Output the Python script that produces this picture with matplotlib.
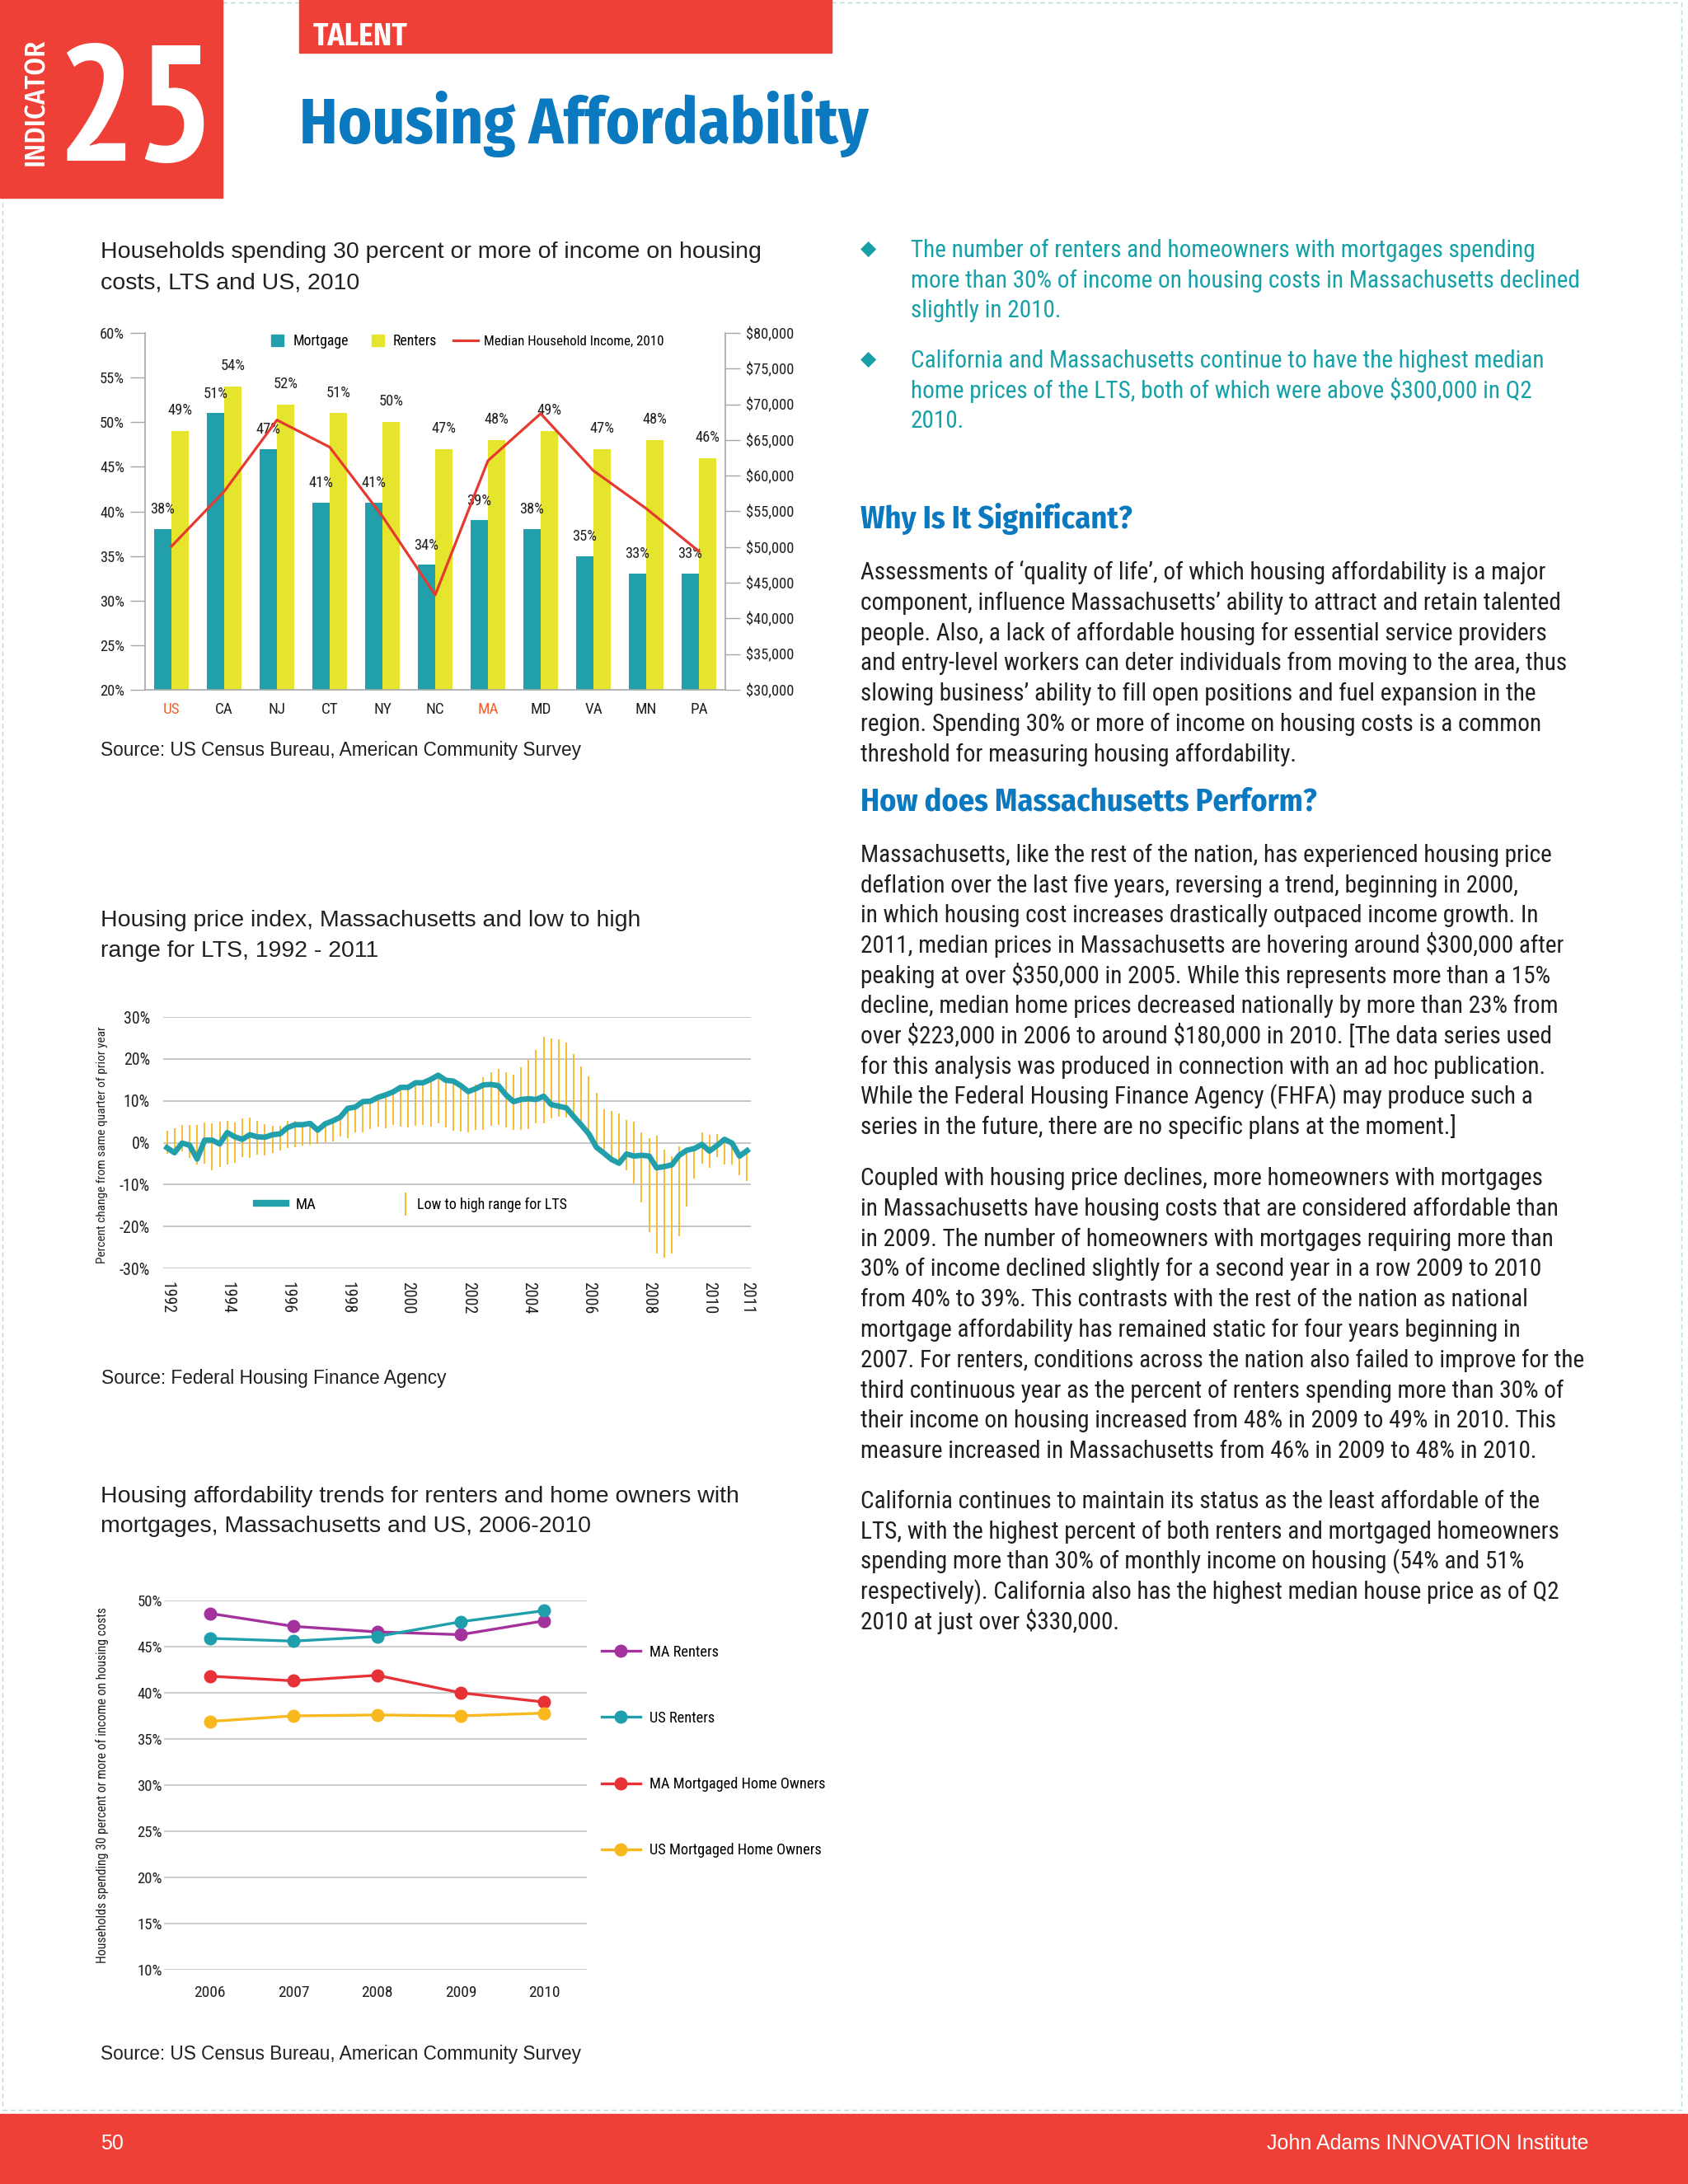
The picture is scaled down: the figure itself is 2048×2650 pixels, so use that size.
import numpy as np
import matplotlib
matplotlib.use('Agg')
import matplotlib.pyplot as plt
from matplotlib.patches import Rectangle, Patch
from matplotlib.lines import Line2D
from matplotlib.ticker import FuncFormatter

W, H = 2048, 2650

# ---------------- DATA ----------------
states = ['US', 'CA', 'NJ', 'CT', 'NY', 'NC', 'MA', 'MD', 'VA', 'MN', 'PA']
mortgage_pct = [38, 51, 47, 41, 41, 34, 39, 38, 35, 33, 33]
renters_pct = [49, 54, 52, 51, 50, 47, 48, 49, 47, 48, 46]
median_income = [50100, 57800, 67800, 64000, 54300, 43300, 62100, 68700, 60700, 55400, 49400]
highlight_states = ['US', 'MA']

# quarterly, 1992 Q1 .. 2011 Q2
ma_hpi = [-1.2, -2.4, -0.1, -0.6, -3.9, 0.6, 0.6, -0.3, 2.4, 1.4,
          0.8, 1.9, 1.4, 1.3, 1.9, 2.1, 3.6, 4.3, 4.3, 4.6,
          3.0, 4.5, 5.2, 6.1, 8.2, 8.5, 9.8, 9.9, 10.8, 11.4,
          12.1, 13.2, 13.2, 14.3, 14.3, 15.1, 16.1, 14.9, 14.7, 13.6,
          12.2, 12.9, 13.8, 13.9, 13.6, 11.4, 9.8, 10.3, 10.5, 10.3,
          11.1, 9.1, 8.7, 8.3, 6.2, 4.2, 2.1, -1.1, -2.5, -4.0,
          -4.9, -2.7, -3.2, -3.0, -3.2, -6.0, -5.7, -5.3, -3.0, -1.8,
          -1.4, -0.4, -2.0, -0.7, 0.8, -0.1, -3.2, -1.9]
lts_high = [2.9, 3.4, 4.3, 4.3, 4.3, 4.9, 4.7, 5.0, 5.3, 4.9,
            5.8, 6.0, 5.3, 4.4, 4.1, 4.1, 5.3, 5.3, 4.7, 4.9,
            3.9, 4.9, 5.5, 6.1, 8.2, 8.5, 9.8, 10.1, 10.8, 11.4,
            12.1, 13.2, 13.2, 14.3, 14.3, 15.1, 16.1, 14.9, 14.7, 13.6,
            12.4, 13.9, 15.7, 16.9, 17.6, 16.9, 16.2, 18.0, 19.7, 22.2,
            25.3, 24.8, 24.7, 23.9, 21.1, 18.2, 15.9, 11.9, 8.0, 7.6,
            7.0, 5.5, 5.0, 2.4, 1.1, 1.6, -1.6, -3.2, -0.9, -1.8,
            -1.4, 2.4, 1.9, 2.1, 1.1, -0.1, -3.0, -1.9]
lts_low = [-2.6, -2.7, -2.0, -3.6, -5.3, -5.0, -6.5, -5.8, -5.2, -4.8,
           -3.4, -3.6, -2.9, -3.0, -2.5, -1.9, -1.3, -1.1, -0.7, -0.5,
           -0.3, 0.1, 0.3, 1.4, 1.1, 2.4, 2.4, 3.2, 3.9, 3.4,
           4.3, 3.9, 3.7, 4.0, 4.2, 3.9, 4.7, 3.6, 2.9, 2.7,
           2.4, 3.0, 3.0, 4.0, 4.2, 3.7, 3.1, 3.0, 3.2, 4.7,
           4.7, 5.9, 6.1, 6.0, 5.5, 4.3, 2.1, -1.5, -3.0, -4.2,
           -4.9, -6.6, -9.7, -14.3, -21.4, -26.5, -27.4, -26.4, -22.3, -15.3,
           -8.6, -5.0, -6.0, -3.5, -5.3, -5.3, -7.8, -9.1]
hpi_tick_pos = [0, 8, 16, 24, 32, 40, 48, 56, 64, 72, 77]
hpi_tick_labels = ['1992', '1994', '1996', '1998', '2000', '2002', '2004',
                   '2006', '2008', '2010', '2011']

trend_years = [2006, 2007, 2008, 2009, 2010]
ma_renters = [48.6, 47.2, 46.6, 46.3, 47.8]
us_renters = [45.9, 45.6, 46.1, 47.7, 48.9]
ma_owners = [41.8, 41.3, 41.9, 40.0, 39.0]
us_owners = [36.9, 37.5, 37.6, 37.5, 37.8]

# ---------------- STYLE ----------------
CHART = ['Roboto Condensed', 'DejaVu Sans']
BODY = ['Roboto Condensed', 'DejaVu Sans']
NARROW = ['PT Sans Narrow', 'DejaVu Sans']
HEAD = ['Fira Sans Condensed', 'DejaVu Sans']
REG = ['Liberation Sans', 'DejaVu Sans']
plt.rcParams['font.family'] = CHART
RED = '#ee4036'
BLUE = '#0a79bf'
TEALTXT = '#17a0a8'
DARK = '#231f20'
GRAY = '#a7a7a7'
TEAL = '#21a0ac'
YEL = '#e6e52d'
LINE_RED = '#e43a2f'
ORANGE = '#f0642e'
GOLD = '#f6b821'


def fx(x):
    return x / W


def fy(y):
    return 1 - y / H


def rect(l, t, r, b):
    return [l / W, 1 - b / H, (r - l) / W, (b - t) / H]


fig = plt.figure(figsize=(W / 100, H / 100), dpi=100)
fig.patch.set_facecolor('white')

# dashed page border
fig.add_artist(Rectangle((fx(3), fy(2560)), fx(2037), (2560 - 3) / H, transform=fig.transFigure,
                         fill=False, ec='#b6dcd8', lw=1.0, ls=(0, (4, 3)), zorder=0))

# ---------------- HEADER ----------------
fig.add_artist(Rectangle((0, fy(240)), fx(270), 240 / H, transform=fig.transFigure,
                         color=RED, zorder=1))
fig.add_artist(Rectangle((fx(363), fy(64)), fx(1009 - 363), 64 / H, transform=fig.transFigure,
                         color=RED, zorder=1))
fig.add_artist(Rectangle((0, 0), 1, (H - 2565) / H, transform=fig.transFigure,
                         color=RED, zorder=1))
fig.text(fx(44), fy(124), 'INDICATOR', rotation=90, ha='center', va='center',
         fontsize=25, weight=500, color='white', family=HEAD, zorder=2)
fig.text(fx(68), fy(195), '25', ha='left', va='baseline', fontsize=145, weight='bold',
         color='white', family=NARROW, zorder=2)
fig.text(fx(380), fy(55), 'TALENT', ha='left', va='baseline', fontsize=27,
         weight='bold', color='white', family=HEAD, zorder=2)
fig.text(fx(363), fy(174), 'Housing Affordability', ha='left', va='baseline',
         fontsize=56, weight='bold', color=BLUE, family=HEAD)

# footer
fig.text(fx(122), fy(2608), '50', ha='left', va='baseline', fontsize=18,
         color='white', family=REG, zorder=2)
fig.text(fx(1927), fy(2608), 'John Adams INNOVATION Institute', ha='right', va='baseline',
         fontsize=18, color='white', family=REG, zorder=2)


def ptext(x, y, s, **kw):
    kw.setdefault('family', BODY)
    kw.setdefault('color', DARK)
    kw.setdefault('fontsize', 21.1)
    fig.text(fx(x), fy(y), s, ha='left', va='baseline', parse_math=False, **kw)


# ---------------- CHART 1 ----------------
ptext(122, 313, 'Households spending 30 percent or more of income on housing', family=REG, fontsize=20.5)
ptext(122, 350, 'costs, LTS and US, 2010', family=REG, fontsize=20.5)
ptext(122, 917, 'Source: US Census Bureau, American Community Survey', family=REG, fontsize=16.3)

ax1 = fig.add_axes(rect(176, 404, 880, 837))
x = np.arange(len(states))
bw = 0.335
ax1.bar(x - bw / 2, mortgage_pct, width=bw, color=TEAL, zorder=2)
ax1.bar(x + bw / 2, renters_pct, width=bw, color=YEL, zorder=2)
for i in range(len(states)):
    ax1.text(x[i] - bw / 2, mortgage_pct[i] + 2.2, f'{mortgage_pct[i]}%', ha='center', va='center',
             fontsize=13.3, color=DARK, zorder=4)
    ax1.text(x[i] + bw / 2, renters_pct[i] + 2.3, f'{renters_pct[i]}%', ha='center', va='center',
             fontsize=13.3, color=DARK, zorder=4)
ax1.set_xlim(-0.5, 10.5)
ax1.set_ylim(20, 60)
ax1.set_yticks(range(20, 61, 5))
ax1.set_yticklabels([f'{v}%' for v in range(20, 61, 5)])
ax1.set_xticks(x)
ax1.set_xticklabels(states)
for lbl in ax1.get_xticklabels():
    lbl.set_color(ORANGE if lbl.get_text() in highlight_states else DARK)
for s in ['top', 'right']:
    ax1.spines[s].set_visible(False)
for s in ['left', 'bottom']:
    ax1.spines[s].set_color(GRAY)
    ax1.spines[s].set_linewidth(1.2)
ax1.tick_params(axis='y', length=13, width=1, color=GRAY, labelsize=13.3, pad=5, labelcolor=DARK)
ax1.tick_params(axis='x', length=0, pad=11, labelsize=13.8)
ax1.patch.set_alpha(0)

ax2 = ax1.twinx()
ax2.plot(x, median_income, color=LINE_RED, lw=2.3, zorder=5)
ax2.set_ylim(30000, 80000)
ax2.set_yticks(range(30000, 80001, 5000))
ax2.yaxis.set_major_formatter(FuncFormatter(lambda v, p: '\\$' + f'{int(v):,}'))
for s in ['top', 'left', 'bottom']:
    ax2.spines[s].set_visible(False)
ax2.spines['right'].set_color(GRAY)
ax2.spines['right'].set_linewidth(1.2)
ax2.tick_params(axis='y', length=13, width=1, color=GRAY, labelsize=13.3, pad=5, labelcolor=DARK)

legend_items = [(Patch(color=TEAL), 'Mortgage', 329, 0.83, 0.65, 12.8),
                (Patch(color=YEL), 'Renters', 451, 0.83, 0.6, 12.8),
                (Line2D([0], [0], color=LINE_RED, lw=2.3), 'Median Household Income, 2010', 550, 1.75, 0.45, 12.2)]
for k, (hnd, lab, xpos, hl, tp, fs) in enumerate(legend_items):
    lg = ax2.legend([hnd], [lab], loc='center left', bbox_to_anchor=(fx(xpos), fy(414)),
                    bbox_transform=fig.transFigure, frameon=False, fontsize=fs,
                    handlelength=hl, handleheight=0.83, handletextpad=tp,
                    borderpad=0, borderaxespad=0)
    if k < len(legend_items) - 1:
        ax2.add_artist(lg)

# ---------------- CHART 2 ----------------
ptext(122, 1124, 'Housing price index, Massachusetts and low to high', family=REG, fontsize=20.5)
ptext(122, 1161, 'range for LTS, 1992 - 2011', family=REG, fontsize=20.5)
ptext(123, 1679, 'Source: Federal Housing Finance Agency', family=REG, fontsize=16.3)

axh = fig.add_axes(rect(198, 1234, 911, 1539))
q = np.arange(len(ma_hpi))
axh.vlines(q, lts_low, lts_high, color=GOLD, lw=1.3, zorder=2)
axh.plot(q, ma_hpi, color=TEAL, lw=4.8, zorder=3)
axh.set_xlim(-0.5, 77.5)
axh.set_ylim(-30, 30)
axh.set_yticks(range(-30, 31, 10))
axh.set_yticklabels([f'{v}%' for v in range(-30, 31, 10)])
axh.set_xticks(hpi_tick_pos)
axh.set_xticklabels(hpi_tick_labels, rotation=-90)
axh.grid(axis='y', color='#b8b8b8', lw=1.1, zorder=0)
axh.set_axisbelow(True)
for s in axh.spines.values():
    s.set_visible(False)
axh.tick_params(axis='y', length=0, pad=11.5, labelsize=14.3, labelcolor=DARK)
axh.tick_params(axis='x', length=0, pad=11.5, labelsize=14.3, labelcolor=DARK)
axh.set_ylabel('Percent change from same quarter of prior year', fontsize=11.1, color=DARK)
axh.yaxis.set_label_coords((131 - 198) / 713, 0.49)
lgA = axh.legend([Line2D([0], [0], color=TEAL, lw=6)], ['MA'], loc='center left',
                 bbox_to_anchor=(fx(311), fy(1462)), bbox_transform=fig.transFigure,
                 frameon=False, fontsize=13.5, handlelength=1.92, handletextpad=0.6,
                 borderpad=0, borderaxespad=0)
axh.add_artist(lgA)
axh.legend([Line2D([0], [0], color=GOLD, marker='|', ls='none', markersize=20, markeredgewidth=1.4)],
           ['Low to high range for LTS'], loc='center left',
           bbox_to_anchor=(fx(484), fy(1462)), bbox_transform=fig.transFigure,
           frameon=False, fontsize=13, handlelength=0.86, handletextpad=0.36,
           borderpad=0, borderaxespad=0)

# ---------------- CHART 3 ----------------
ptext(122, 1823, 'Housing affordability trends for renters and home owners with', family=REG, fontsize=20.5)
ptext(122, 1859, 'mortgages, Massachusetts and US, 2006-2010', family=REG, fontsize=20.5)
ptext(122, 2499, 'Source: US Census Bureau, American Community Survey', family=REG, fontsize=16.3)

axt = fig.add_axes(rect(199, 1942, 712, 2390))
series = [(ma_renters, '#a3329c', 'MA Renters'),
          (us_renters, '#1e9fab', 'US Renters'),
          (ma_owners, '#e63137', 'MA Mortgaged Home Owners'),
          (us_owners, '#f8b81e', 'US Mortgaged Home Owners')]
handles = []
for vals, col, lab in series:
    h, = axt.plot(trend_years, vals, color=col, lw=2.4, marker='o', markersize=10.5,
                  label=lab, zorder=3)
    handles.append(h)
axt.set_xlim(2005.45, 2010.51)
axt.set_ylim(10, 50)
axt.set_yticks(range(10, 51, 5))
axt.set_yticklabels([f'{v}%' for v in range(10, 51, 5)])
axt.set_xticks(trend_years)
axt.set_xticklabels([str(y) for y in trend_years])
axt.grid(axis='y', color='#c4c4c4', lw=1.2, zorder=0)
axt.set_axisbelow(True)
for s in axt.spines.values():
    s.set_visible(False)
axt.tick_params(axis='y', length=0, pad=1.5, labelsize=13.5, labelcolor=DARK)
axt.tick_params(axis='x', length=0, pad=14, labelsize=14, labelcolor=DARK)
axt.set_ylabel('Households spending 30 percent or more of income on housing costs',
               fontsize=11.3, color=DARK)
axt.yaxis.set_label_coords((132 - 199) / 513, 0.5)
axt.legend(handles=handles, loc='center left', bbox_to_anchor=(fx(730), fy(2125)),
           bbox_transform=fig.transFigure, frameon=False, fontsize=13.2,
           handlelength=2.55, handletextpad=0.6, labelspacing=3.4,
           borderpad=0, borderaxespad=0)

# ---------------- RIGHT COLUMN TEXT ----------------
bullets = [
    ['The number of renters and homeowners with mortgages spending',
     'more than 30% of income on housing costs in Massachusetts declined',
     'slightly in 2010.'],
    ['California and Massachusetts continue to have the highest median',
     'home prices of the LTS, both of which were above $300,000 in Q2',
     '2010.'],
]
bullet_y = [312, 446]
for blines, y0 in zip(bullets, bullet_y):
    fig.text(fx(1054), fy(y0 - 10), '\u25c6', ha='center', va='center', fontsize=18,
             color=TEALTXT, family=['DejaVu Sans'])
    for k, line in enumerate(blines):
        ptext(1105, y0 + k * 36.7, line, color=TEALTXT)

ptext(1044, 641, 'Why Is It Significant?', fontsize=27.5, weight='bold', color=BLUE, family=HEAD)
para1 = ['Assessments of \u2018quality of life\u2019, of which housing affordability is a major',
         'component, influence Massachusetts\u2019 ability to attract and retain talented',
         'people. Also, a lack of affordable housing for essential service providers',
         'and entry-level workers can deter individuals from moving to the area, thus',
         'slowing business\u2019 ability to fill open positions and fuel expansion in the',
         'region. Spending 30% or more of income on housing costs is a common',
         'threshold for measuring housing affordability.']
for k, line in enumerate(para1):
    ptext(1044, 703 + k * 36.8, line)

ptext(1044, 984, 'How does Massachusetts Perform?', fontsize=27.5, weight='bold', color=BLUE, family=HEAD)
para2 = ['Massachusetts, like the rest of the nation, has experienced housing price',
         'deflation over the last five years, reversing a trend, beginning in 2000,',
         'in which housing cost increases drastically outpaced income growth. In',
         '2011, median prices in Massachusetts are hovering around $300,000 after',
         'peaking at over $350,000 in 2005. While this represents more than a 15%',
         'decline, median home prices decreased nationally by more than 23% from',
         'over $223,000 in 2006 to around $180,000 in 2010. [The data series used',
         'for this analysis was produced in connection with an ad hoc publication.',
         'While the Federal Housing Finance Agency (FHFA) may produce such a',
         'series in the future, there are no specific plans at the moment.]']
for k, line in enumerate(para2):
    ptext(1044, 1046 + k * 36.65, line)

para3 = ['Coupled with housing price declines, more homeowners with mortgages',
         'in Massachusetts have housing costs that are considered affordable than',
         'in 2009. The number of homeowners with mortgages requiring more than',
         '30% of income declined slightly for a second year in a row 2009 to 2010',
         'from 40% to 39%. This contrasts with the rest of the nation as national',
         'mortgage affordability has remained static for four years beginning in',
         '2007. For renters, conditions across the nation also failed to improve for the',
         'third continuous year as the percent of renters spending more than 30% of',
         'their income on housing increased from 48% in 2009 to 49% in 2010. This',
         'measure increased in Massachusetts from 46% in 2009 to 48% in 2010.']
for k, line in enumerate(para3):
    ptext(1044, 1438 + k * 36.8, line)

para4 = ['California continues to maintain its status as the least affordable of the',
         'LTS, with the highest percent of both renters and mortgaged homeowners',
         'spending more than 30% of monthly income on housing (54% and 51%',
         'respectively). California also has the highest median house price as of Q2',
         '2010 at just over $330,000.']
for k, line in enumerate(para4):
    ptext(1044, 1830 + k * 36.75, line)

fig.savefig('out.png', dpi=100, facecolor='white')
